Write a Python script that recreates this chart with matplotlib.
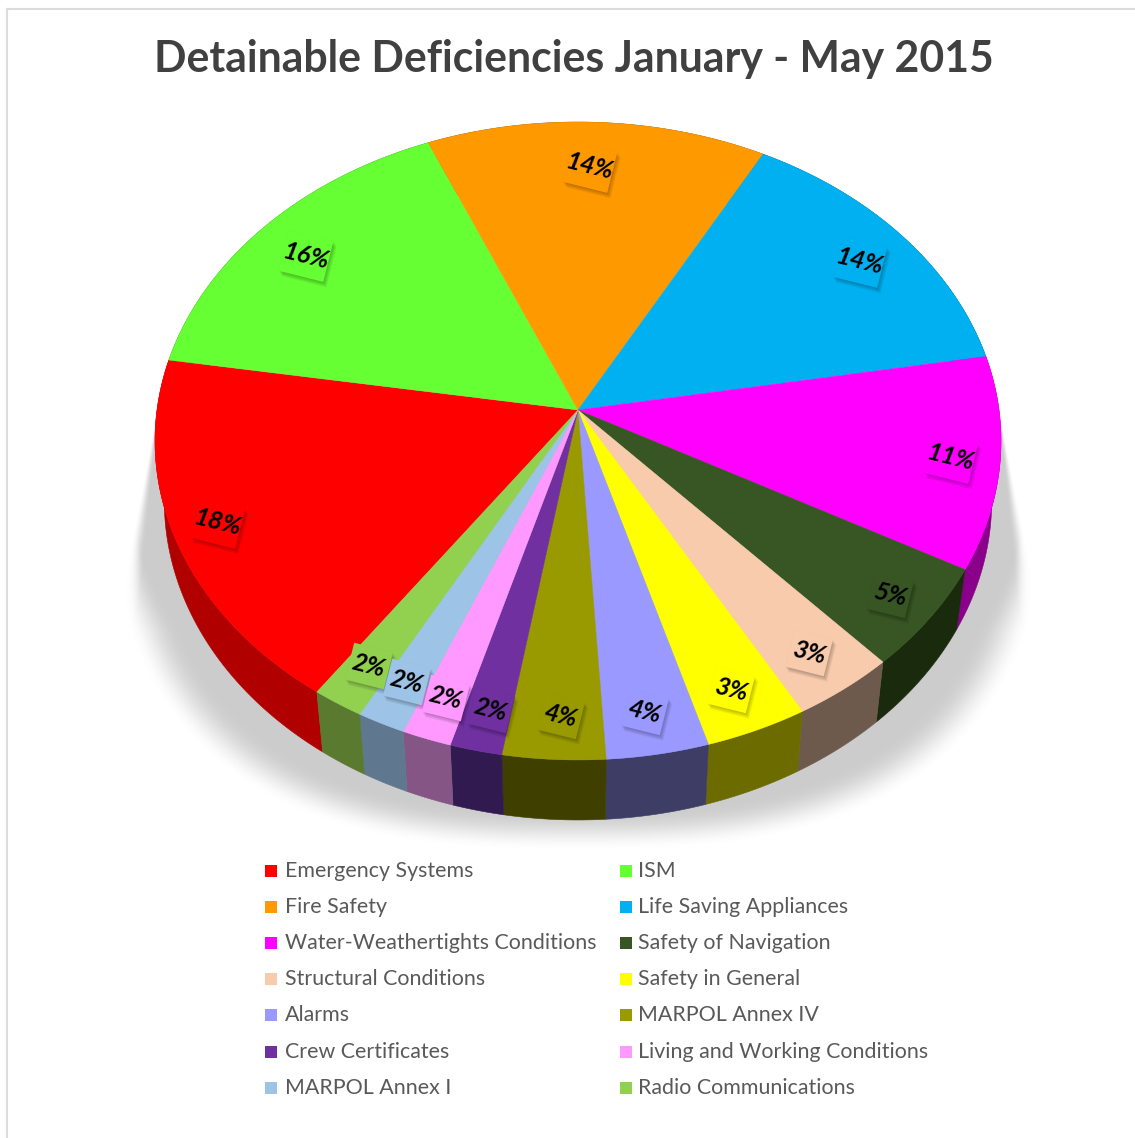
import matplotlib
matplotlib.use("Agg")
import matplotlib.pyplot as plt
import numpy as np
from matplotlib.patches import Rectangle
from matplotlib.transforms import Affine2D

plt.rcParams['font.family'] = ['Lato', 'DejaVu Sans']

title = "Detainable Deficiencies January - May 2015"
categories = ["Emergency Systems", "ISM", "Fire Safety", "Life Saving Appliances",
              "Water-Weathertights Conditions", "Safety of Navigation",
              "Structural Conditions", "Safety in General", "Alarms", "MARPOL Annex IV",
              "Crew Certificates", "Living and Working Conditions", "MARPOL Annex I",
              "Radio Communications"]
values = [17.9, 16.1, 14.25, 14.33, 10.75, 5.27, 3.62, 3.58, 3.57, 3.58, 1.82, 1.73, 1.7, 1.8]
pct_labels = ["18%", "16%", "14%", "14%", "11%", "5%", "3%", "3%", "4%", "4%", "2%", "2%", "2%", "2%"]
top_colors = ["#ff0000", "#66ff33", "#ff9900", "#00b0f0", "#ff00ff", "#375623", "#f8cbad",
              "#ffff00", "#9999ff", "#999900", "#7030a0", "#ff99ff", "#9dc3e6", "#92d050"]
side_colors = ["#b00000", "#3f8f20", "#995c00", "#006a90", "#8a008a", "#1a2a0c", "#6e5a4c",
               "#6b6b00", "#3d3d66", "#3f3f00", "#301a50", "#855585", "#5f7890", "#5a7a30"]

# where the rotated labels sit, in picture pixels
label_x = [218, 306, 590, 860, 951, 890, 809, 731, 645, 561, 491, 446, 407, 369]
label_y = [523, 256, 167, 262, 458, 595, 653, 690, 712, 716, 710, 698, 682, 666]

W, H = 1135, 1138
CX, CY = 578, 410
START = -124.8  # angle of the first slice edge


def project(angle_deg):
    # disc seen in perspective: the centre is above the middle of the ellipse
    t = np.radians(angle_deg)
    X, Y = np.cos(t), np.sin(t)
    w = 1 + 0.0972 * Y
    return CX + 421 * X / w, (CY - 276.1 * Y) / w


fig = plt.figure(figsize=(W / 100, H / 100), dpi=100)
ax = fig.add_axes([0, 0, 1, 1])
ax.set_xlim(0, W)
ax.set_ylim(H, 0)
ax.axis("off")

# frame
ax.plot([7, 7], [H, 9], color="#dcdcdc", lw=1.5)
ax.plot([7, W], [9, 9], color="#dcdcdc", lw=1.5)

# soft shadow under the disc
yy, xx = np.mgrid[0:H, 0:W]
dx = np.abs(xx - 578.0)
d = (dx / 470.0) ** 2.7 + (np.abs(yy - 450) / 400.0) ** 2.7
soft = 0.02 + 0.22 * np.clip((yy - 430) / 200.0, 0, 1)
sh = np.clip((1 - d) / soft, 0, 1)
# the sides taper in towards the rim of the disc higher up
taper_edge = 425 + (yy - 430) * 0.2
taper_soft = 3 + np.clip(yy - 430, 0, 170) * 0.1
sh = sh * np.clip((taper_edge - dx) / taper_soft, 0, 1)
sh = sh * sh * (3 - 2 * sh)
sh[yy < 425] = 0
rgba = np.zeros((H, W, 4))
rgba[..., :3] = 0.74
rgba[..., 3] = sh * 0.75
ax.imshow(rgba, extent=(0, W, H, 0), zorder=1, aspect="auto", interpolation="bilinear")
ax.set_xlim(0, W)
ax.set_ylim(H, 0)

edges = START - np.cumsum([0] + values) * 3.6

# side walls first, then the top faces over them
for i in range(len(values)):
    a = np.linspace(edges[i], edges[i + 1], 60)
    x, y = project(a)
    xb = CX + (x - CX) * 0.978
    yb = y + 60
    ax.fill(np.r_[x, xb[::-1]], np.r_[y, yb[::-1]], color=side_colors[i], lw=0.4, zorder=2)

for i in range(len(values)):
    a = np.linspace(edges[i], edges[i + 1], 120)
    x, y = project(a)
    ax.fill(np.r_[CX, x], np.r_[CY, y], color=top_colors[i], lw=0.3, zorder=3)

# labels on little raised tiles
for i in range(len(values)):
    bw = 46 if len(pct_labels[i]) == 3 else 40
    bh = 42 if len(pct_labels[i]) == 3 else 38
    rot = Affine2D().rotate_deg_around(label_x[i], label_y[i], 14) + ax.transData
    for k in range(6):
        ax.add_patch(Rectangle((label_x[i] - bw / 2 + k * 0.9, label_y[i] - bh / 2 + k * 0.9), bw, bh,
                               color="black", alpha=0.05, lw=0, transform=rot, zorder=4))
    ax.add_patch(Rectangle((label_x[i] - bw / 2, label_y[i] - bh / 2), bw, bh,
                           color=top_colors[i], lw=0, transform=rot, zorder=5))
    ax.text(label_x[i], label_y[i], pct_labels[i], fontsize=18, fontweight="bold", style="italic",
            color="black", rotation=-14, rotation_mode="anchor", ha="center", va="center", zorder=6)

ax.text(574, 59, title, fontsize=30.8, fontweight="bold", color="#404040", ha="center", va="center", zorder=6)

# legend, two columns
for i, name in enumerate(categories):
    row = i // 2
    sx = 265 if i % 2 == 0 else 620
    tx = 285 if i % 2 == 0 else 638
    sy = 870.5 + row * 36.2
    ax.add_patch(Rectangle((sx, sy - 6), 12, 12, color=top_colors[i], lw=0, zorder=6))
    ax.text(tx, sy, name, fontsize=15.4, color="#595959", ha="left", va="center", zorder=6)

fig.savefig("out.png", dpi=100)
